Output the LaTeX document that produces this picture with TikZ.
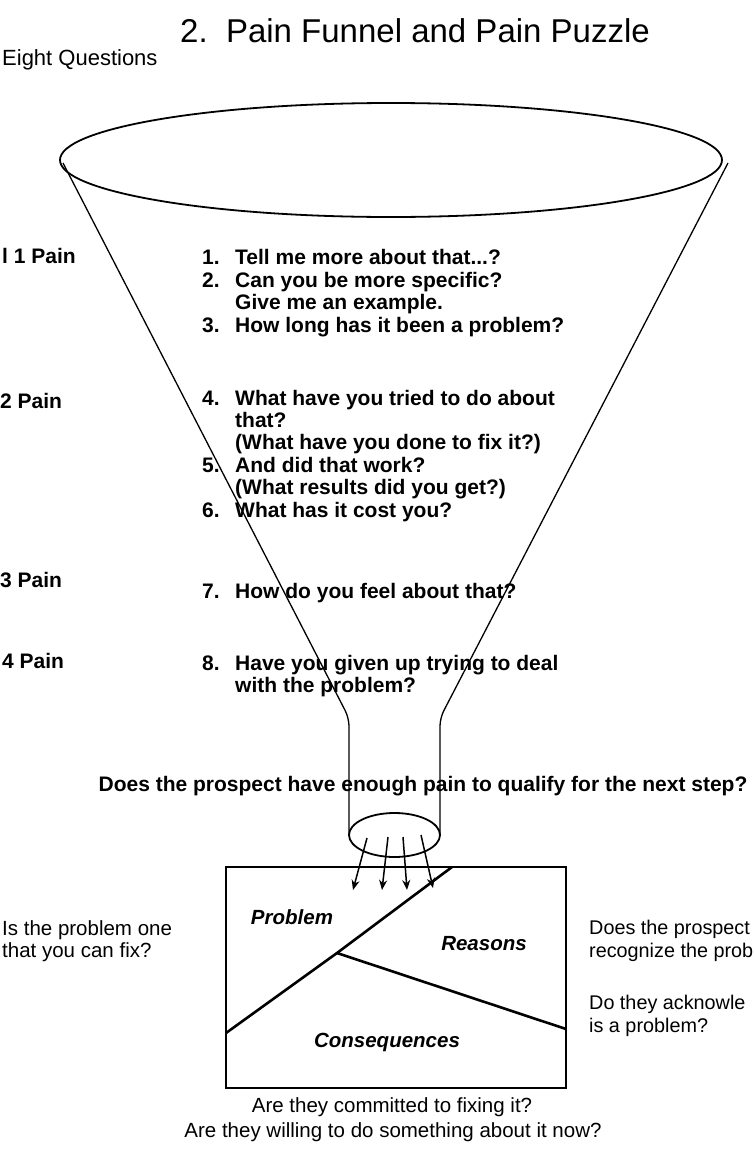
\documentclass[tikz,border=0pt]{standalone}
\usepackage{fontspec}
\setmainfont{Liberation Sans}
\usetikzlibrary{arrows.meta}
\tikzset{
  qnum/.style={anchor=base west, inner sep=0pt, font=\fontsize{21}{22.5}\selectfont\bfseries},
  qtext/.style={anchor=base west, inner sep=0pt, font=\fontsize{21}{22.5}\selectfont\bfseries},
  lvl/.style={anchor=base west, inner sep=0pt, font=\fontsize{21}{22.5}\selectfont\bfseries},
  side/.style={anchor=base west, inner sep=0pt, font=\fontsize{20.5}{22}\selectfont},
  rside/.style={anchor=base west, inner sep=0pt, font=\fontsize{19.8}{22}\selectfont},
  bottomtxt/.style={anchor=base, inner sep=0pt, font=\fontsize{20.5}{22}\selectfont},
  boxlabel/.style={anchor=base, inner sep=0pt, font=\fontsize{20.5}{22}\selectfont\bfseries\itshape},
  funnel/.style={line width=1.3pt, rounded corners=8pt},
  rim/.style={line width=1.8pt},
  puzzle/.style={line width=2.6pt, line join=miter},
  flow/.style={line width=1.5pt, -{Stealth[length=10pt,width=8pt]}},
}
\begin{document}
\begin{tikzpicture}[x=1pt, y=-1pt]
\fill[white] (0,0) rectangle (753,1154);
\useasboundingbox (0,0) rectangle (753,1154);

% title
\node[anchor=base, inner sep=0pt, font=\fontsize{33}{36}\selectfont] (title) at (415,42) {2.\ \ Pain Funnel and Pain Puzzle};
\node[anchor=base west, inner sep=0pt, font=\fontsize{22}{24}\selectfont] (eight) at (2,65) {Eight Questions};

% funnel
\draw[rim] (391,160) ellipse [x radius=331, y radius=57];
\coordinate (lt) at (63,163);
\coordinate (ln) at (349,718);
\coordinate (lb) at (349,835);
\coordinate (rt) at (728,163);
\coordinate (rn) at (440,718);
\coordinate (rb) at (440,835);
\draw[funnel] (lt) -- (ln) -- (lb);
\draw[funnel] (rt) -- (rn) -- (rb);
\draw[rim] (394.5,835) ellipse [x radius=45.5, y radius=22];

% level labels
\node[lvl] (lv1) at (2,263) {l 1 Pain};
\node[lvl] (lv2) at (0,408) {2 Pain};
\node[lvl] (lv3) at (0,587) {3 Pain};
\node[lvl] (lv4) at (2,668) {4 Pain};

% questions
\node[qnum] (n1) at (202,264) {1.};
\node[qtext] (t1) at (235,264) {Tell me more about that...?};
\node[qnum] (n2) at (202,287) {2.};
\node[qtext] (t2a) at (235,287) {Can you be more specific?};
\node[qtext] (t2b) at (235,309) {Give me an example.};
\node[qnum] (n3) at (202,332) {3.};
\node[qtext] (t3) at (235,332) {How long has it been a problem?};
\node[qnum] (n4) at (202,405) {4.};
\node[qtext] (t4a) at (235,405) {What have you tried to do about};
\node[qtext] (t4b) at (235,427) {that?};
\node[qtext] (t4c) at (235,449) {(What have you done to fix it?)};
\node[qnum] (n5) at (202,472) {5.};
\node[qtext] (t5a) at (235,472) {And did that work?};
\node[qtext] (t5b) at (235,494) {(What results did you get?)};
\node[qnum] (n6) at (202,517) {6.};
\node[qtext] (t6) at (235,517) {What has it cost you?};
\node[qnum] (n7) at (202,598) {7.};
\node[qtext] (t7) at (235,598) {How do you feel about that?};
\node[qnum] (n8) at (202,670) {8.};
\node[qtext] (t8a) at (235,670) {Have you given up trying to deal};
\node[qtext] (t8b) at (235,692) {with the problem?};

\node[anchor=base, inner sep=0pt, font=\fontsize{21}{22.5}\selectfont\bfseries] (qualify) at (423,791) {Does the prospect have enough pain to qualify for the next step?};

% puzzle box
\coordinate (bnw) at (226,867);
\coordinate (bse) at (566,1088);
\coordinate (dtop) at (452,867);
\coordinate (djoin) at (337,953);
\coordinate (dleft) at (226,1033);
\coordinate (dright) at (566,1029);
\draw[puzzle] (bnw) rectangle (bse);
\draw[puzzle] (dtop) -- (djoin) -- (dleft);
\draw[puzzle] (djoin) -- (dright);

% pain flowing out
\coordinate (a1s) at (367,838); \coordinate (a1e) at (353,890);
\coordinate (a2s) at (388,837); \coordinate (a2e) at (382,890);
\coordinate (a3s) at (403,837); \coordinate (a3e) at (407,890);
\coordinate (a4s) at (421,835); \coordinate (a4e) at (433,888);
\draw[flow] (a1s) -- (a1e);
\draw[flow] (a2s) -- (a2e);
\draw[flow] (a3s) -- (a3e);
\draw[flow] (a4s) -- (a4e);

\node[boxlabel] (lprob) at (292,924) {Problem};
\node[boxlabel] (lreas) at (484,950) {Reasons};
\node[boxlabel] (lcons) at (387,1047) {Consequences};

% side texts
\node[side] (fix1) at (2,935) {Is the problem one};
\node[side] (fix2) at (2,957) {that you can fix?};
\node[rside] (rec1) at (589,934) {Does the prospect};
\node[rside] (rec2) at (589,957) {recognize the prob};
\node[rside] (ack1) at (589,1009) {Do they acknowle};
\node[rside] (ack2) at (589,1032) {is a problem?};

\node[bottomtxt] (com1) at (392,1112) {Are they committed to fixing it?};
\node[bottomtxt] (com2) at (393,1137) {Are they willing to do something about it now?};
\end{tikzpicture}
\end{document}
